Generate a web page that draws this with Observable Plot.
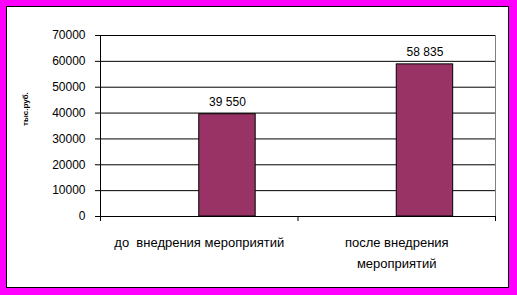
<!DOCTYPE html>
<html><head><meta charset="utf-8">
<script src="https://cdn.jsdelivr.net/npm/d3@7"></script>
<script src="https://cdn.jsdelivr.net/npm/@observablehq/plot@0.6"></script>
<style>
html,body{margin:0;padding:0;background:#ff00ff;width:517px;height:295px;overflow:hidden;}
#box{position:absolute;left:6px;top:6px;width:501px;height:280px;background:#fff;border:1px solid #000;}
#chart{position:absolute;left:0;top:0;}
</style></head><body><div id="box"></div><div id="chart"></div>
<script>
const categories = ["до  внедрения мероприятий", "после внедрения мероприятий"];
const values = [39550, 58835];
const xTickLabels = ["до  внедрения мероприятий", "после внедрения\nмероприятий"];
const yTicks = [0, 10000, 20000, 30000, 40000, 50000, 60000, 70000];
const yLabel = "тыс.руб.";
const seriesCount = 2, seriesIndex = 1, gapWidth = 1.5;

const slot = 1 / (seriesCount + gapWidth);
const fmt = d3.formatLocale({decimal: ",", thousands: "\u00a0", grouping: [3], currency: ["", ""]}).format(",");
const rows = categories.map((c, i) => {
  const x1 = i + slot * (gapWidth / 2 + seriesIndex);
  return {cat: c, i, value: values[i], label: xTickLabels[i], x1, x2: x1 + slot};
});

const plot = Plot.plot({
  width: 517, height: 295,
  marginLeft: 100, marginRight: 22, marginTop: 35, marginBottom: 79,
  style: {fontFamily: "'Liberation Sans', Arial, sans-serif", fontSize: "11px", color: "black", background: "transparent", overflow: "visible"},
  x: {domain: [0, categories.length]},
  y: {domain: [0, 70000]},
  marks: [
    Plot.frame({stroke: "#808080"}),
    Plot.ruleY(yTicks, {stroke: "black"}),
    Plot.rectY(rows, {x1: "x1", x2: "x2", y: "value", fill: "#993366", stroke: "black"}),
    Plot.ruleX([0], {stroke: "black"}),
    Plot.ruleY([0], {stroke: "black"}),
    Plot.axisY({ticks: yTicks, tickSize: 5, tickPadding: 10, tickFormat: d => String(d), label: null, stroke: "black", fontSize: 12}),
    Plot.axisX({ticks: d3.range(categories.length + 1), tickSize: 5, tickFormat: () => "", label: null, stroke: "black"}),
    Plot.text(rows, {x: d => (d.x1 + d.x2) / 2, y: "value", text: d => fmt(d.value), lineAnchor: "bottom", dy: -8, fontSize: 12}),
    Plot.text(rows, {x: d => d.i + 0.5, text: "label", frameAnchor: "bottom", lineAnchor: "top", dy: 16, lineHeight: 1.6, fontSize: 13}),
    Plot.text([yLabel], {frameAnchor: "left", dx: -75, rotate: -90, fontWeight: "bold", fontSize: 8})
  ]
});
document.getElementById("chart").appendChild(plot);
</script></body></html>
